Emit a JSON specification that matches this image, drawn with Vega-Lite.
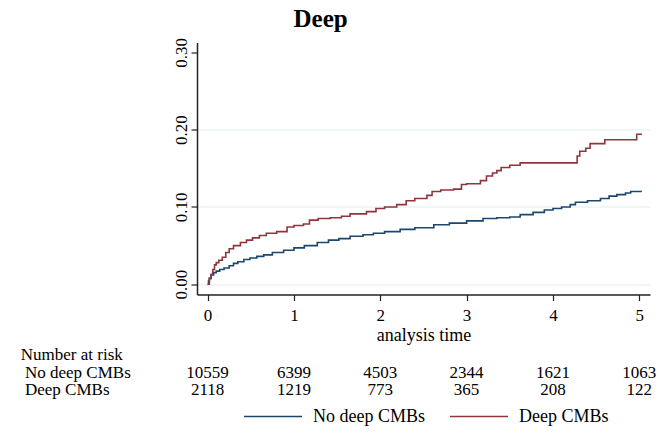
{
  "$schema": "https://vega.github.io/schema/vega-lite/v6.json",
  "background": "white",
  "padding": {"left": 20, "top": 6.5, "right": 5, "bottom": 5},
  "config": {
    "font": "Liberation Serif",
    "view": {"stroke": null},
    "concat": {"spacing": 1},
    "axis": {"domainColor": "#222222", "tickColor": "#222222", "domainWidth": 1.5, "tickWidth": 1.2, "labelColor": "#000000", "titleColor": "#000000", "labelFont": "Liberation Serif", "titleFont": "Liberation Serif"}
  },
  "datasets": {
    "curves": [
      {"group": "No deep CMBs", "t": 0, "v": 0},
      {"group": "No deep CMBs", "t": 0.01, "v": 0.004},
      {"group": "No deep CMBs", "t": 0.02, "v": 0.008},
      {"group": "No deep CMBs", "t": 0.04, "v": 0.012},
      {"group": "No deep CMBs", "t": 0.07, "v": 0.015},
      {"group": "No deep CMBs", "t": 0.10, "v": 0.017},
      {"group": "No deep CMBs", "t": 0.14, "v": 0.019},
      {"group": "No deep CMBs", "t": 0.19, "v": 0.021},
      {"group": "No deep CMBs", "t": 0.25, "v": 0.024},
      {"group": "No deep CMBs", "t": 0.30, "v": 0.027},
      {"group": "No deep CMBs", "t": 0.35, "v": 0.029},
      {"group": "No deep CMBs", "t": 0.42, "v": 0.032},
      {"group": "No deep CMBs", "t": 0.49, "v": 0.034},
      {"group": "No deep CMBs", "t": 0.57, "v": 0.036},
      {"group": "No deep CMBs", "t": 0.65, "v": 0.038},
      {"group": "No deep CMBs", "t": 0.75, "v": 0.041},
      {"group": "No deep CMBs", "t": 0.88, "v": 0.044},
      {"group": "No deep CMBs", "t": 1.00, "v": 0.047},
      {"group": "No deep CMBs", "t": 1.12, "v": 0.050},
      {"group": "No deep CMBs", "t": 1.27, "v": 0.054},
      {"group": "No deep CMBs", "t": 1.40, "v": 0.057},
      {"group": "No deep CMBs", "t": 1.52, "v": 0.059},
      {"group": "No deep CMBs", "t": 1.65, "v": 0.062},
      {"group": "No deep CMBs", "t": 1.80, "v": 0.064},
      {"group": "No deep CMBs", "t": 1.92, "v": 0.066},
      {"group": "No deep CMBs", "t": 2.05, "v": 0.068},
      {"group": "No deep CMBs", "t": 2.23, "v": 0.071},
      {"group": "No deep CMBs", "t": 2.40, "v": 0.073},
      {"group": "No deep CMBs", "t": 2.62, "v": 0.077},
      {"group": "No deep CMBs", "t": 2.80, "v": 0.079},
      {"group": "No deep CMBs", "t": 3.00, "v": 0.082},
      {"group": "No deep CMBs", "t": 3.19, "v": 0.085},
      {"group": "No deep CMBs", "t": 3.35, "v": 0.086},
      {"group": "No deep CMBs", "t": 3.50, "v": 0.087},
      {"group": "No deep CMBs", "t": 3.62, "v": 0.090},
      {"group": "No deep CMBs", "t": 3.77, "v": 0.093},
      {"group": "No deep CMBs", "t": 3.90, "v": 0.096},
      {"group": "No deep CMBs", "t": 4.00, "v": 0.098},
      {"group": "No deep CMBs", "t": 4.10, "v": 0.100},
      {"group": "No deep CMBs", "t": 4.20, "v": 0.103},
      {"group": "No deep CMBs", "t": 4.26, "v": 0.106},
      {"group": "No deep CMBs", "t": 4.40, "v": 0.108},
      {"group": "No deep CMBs", "t": 4.55, "v": 0.111},
      {"group": "No deep CMBs", "t": 4.65, "v": 0.114},
      {"group": "No deep CMBs", "t": 4.74, "v": 0.116},
      {"group": "No deep CMBs", "t": 4.84, "v": 0.118},
      {"group": "No deep CMBs", "t": 4.90, "v": 0.120},
      {"group": "No deep CMBs", "t": 5.03, "v": 0.120},
      {"group": "Deep CMBs", "t": 0, "v": 0},
      {"group": "Deep CMBs", "t": 0.02, "v": 0.007},
      {"group": "Deep CMBs", "t": 0.04, "v": 0.013},
      {"group": "Deep CMBs", "t": 0.06, "v": 0.019},
      {"group": "Deep CMBs", "t": 0.08, "v": 0.025},
      {"group": "Deep CMBs", "t": 0.10, "v": 0.028},
      {"group": "Deep CMBs", "t": 0.13, "v": 0.031},
      {"group": "Deep CMBs", "t": 0.17, "v": 0.035},
      {"group": "Deep CMBs", "t": 0.21, "v": 0.041},
      {"group": "Deep CMBs", "t": 0.25, "v": 0.046},
      {"group": "Deep CMBs", "t": 0.30, "v": 0.050},
      {"group": "Deep CMBs", "t": 0.38, "v": 0.054},
      {"group": "Deep CMBs", "t": 0.45, "v": 0.057},
      {"group": "Deep CMBs", "t": 0.52, "v": 0.060},
      {"group": "Deep CMBs", "t": 0.60, "v": 0.063},
      {"group": "Deep CMBs", "t": 0.68, "v": 0.066},
      {"group": "Deep CMBs", "t": 0.80, "v": 0.068},
      {"group": "Deep CMBs", "t": 0.92, "v": 0.074},
      {"group": "Deep CMBs", "t": 1.00, "v": 0.076},
      {"group": "Deep CMBs", "t": 1.11, "v": 0.078},
      {"group": "Deep CMBs", "t": 1.18, "v": 0.083},
      {"group": "Deep CMBs", "t": 1.28, "v": 0.085},
      {"group": "Deep CMBs", "t": 1.42, "v": 0.086},
      {"group": "Deep CMBs", "t": 1.55, "v": 0.088},
      {"group": "Deep CMBs", "t": 1.65, "v": 0.091},
      {"group": "Deep CMBs", "t": 1.84, "v": 0.094},
      {"group": "Deep CMBs", "t": 1.95, "v": 0.098},
      {"group": "Deep CMBs", "t": 2.05, "v": 0.100},
      {"group": "Deep CMBs", "t": 2.19, "v": 0.103},
      {"group": "Deep CMBs", "t": 2.30, "v": 0.108},
      {"group": "Deep CMBs", "t": 2.40, "v": 0.111},
      {"group": "Deep CMBs", "t": 2.54, "v": 0.115},
      {"group": "Deep CMBs", "t": 2.60, "v": 0.120},
      {"group": "Deep CMBs", "t": 2.70, "v": 0.122},
      {"group": "Deep CMBs", "t": 2.85, "v": 0.123},
      {"group": "Deep CMBs", "t": 2.94, "v": 0.129},
      {"group": "Deep CMBs", "t": 3.00, "v": 0.130},
      {"group": "Deep CMBs", "t": 3.16, "v": 0.134},
      {"group": "Deep CMBs", "t": 3.23, "v": 0.140},
      {"group": "Deep CMBs", "t": 3.30, "v": 0.144},
      {"group": "Deep CMBs", "t": 3.35, "v": 0.147},
      {"group": "Deep CMBs", "t": 3.40, "v": 0.151},
      {"group": "Deep CMBs", "t": 3.50, "v": 0.154},
      {"group": "Deep CMBs", "t": 3.62, "v": 0.157},
      {"group": "Deep CMBs", "t": 4.28, "v": 0.166},
      {"group": "Deep CMBs", "t": 4.31, "v": 0.172},
      {"group": "Deep CMBs", "t": 4.38, "v": 0.176},
      {"group": "Deep CMBs", "t": 4.43, "v": 0.182},
      {"group": "Deep CMBs", "t": 4.60, "v": 0.187},
      {"group": "Deep CMBs", "t": 4.97, "v": 0.194},
      {"group": "Deep CMBs", "t": 5.03, "v": 0.194}
    ],
    "risk": [
      {"group": "No deep CMBs", "t": 0, "n": 10559},
      {"group": "No deep CMBs", "t": 1, "n": 6399},
      {"group": "No deep CMBs", "t": 2, "n": 4503},
      {"group": "No deep CMBs", "t": 3, "n": 2344},
      {"group": "No deep CMBs", "t": 4, "n": 1621},
      {"group": "No deep CMBs", "t": 5, "n": 1063},
      {"group": "Deep CMBs", "t": 0, "n": 2118},
      {"group": "Deep CMBs", "t": 1, "n": 1219},
      {"group": "Deep CMBs", "t": 2, "n": 773},
      {"group": "Deep CMBs", "t": 3, "n": 365},
      {"group": "Deep CMBs", "t": 4, "n": 208},
      {"group": "Deep CMBs", "t": 5, "n": 122}
    ]
  },
  "vconcat": [
    {
      "width": 453,
      "height": 252,
      "title": {"text": "Deep", "font": "Liberation Serif", "fontSize": 25, "fontWeight": "bold", "color": "#000000", "anchor": "start", "dx": 121, "offset": 5.5},
      "data": {"name": "curves"},
      "mark": {"type": "line", "interpolate": "step-after", "strokeWidth": 1.6},
      "encoding": {
        "x": {"field": "t", "type": "quantitative", "scale": {"domain": [-0.123, 5.124], "nice": false, "zero": false},
              "axis": {"values": [0, 1, 2, 3, 4, 5], "format": "d", "grid": false, "tickSize": 6, "labelFontSize": 17, "labelPadding": 7, "labelFlush": false, "title": "analysis time", "titleFontSize": 18, "titleFontWeight": "normal", "titlePadding": 3}},
        "y": {"field": "v", "type": "quantitative", "scale": {"domain": [-0.0133, 0.3128], "nice": false, "zero": false},
              "axis": {"values": [0, 0.1, 0.2, 0.3], "format": ".2f", "title": null, "tickSize": 6, "labelFontSize": 17, "labelAngle": 270, "labelAlign": "center", "labelBaseline": "alphabetic", "labelPadding": 4.5, "labelFlush": false,
                       "grid": true, "gridColor": "#e1ebec", "gridWidth": 1.2, "gridOpacity": {"condition": {"test": "datum.value > 0.25", "value": 0}, "value": 1}}},
        "color": {"field": "group", "type": "nominal", "scale": {"domain": ["No deep CMBs", "Deep CMBs"], "range": ["#1a476f", "#90353b"]},
                  "legend": {"orient": "none", "legendX": 46, "legendY": 344, "direction": "horizontal", "title": null, "symbolType": "stroke", "symbolSize": 3364, "symbolStrokeWidth": 1.5, "labelFontSize": 18, "labelFont": "Liberation Serif", "labelColor": "#000000", "labelOffset": 10, "columnPadding": 22}}
      }
    },
    {
      "width": 453,
      "height": 52.5,
      "data": {"name": "risk"},
      "mark": {"type": "text", "fontSize": 17, "font": "Liberation Serif", "color": "#000000", "baseline": "middle"},
      "encoding": {
        "x": {"field": "t", "type": "quantitative", "scale": {"domain": [-0.123, 5.124], "nice": false, "zero": false}, "axis": null},
        "y": {"field": "group", "type": "nominal", "scale": {"type": "band", "domain": ["Number at risk", "No deep CMBs", "Deep CMBs"], "paddingInner": 0, "paddingOuter": 0},
              "axis": {"title": null, "domain": false, "ticks": false, "labelAlign": "left", "labelBaseline": "middle", "labelPadding": {"condition": {"test": "datum.value === 'Number at risk'", "value": 176.7}, "value": 172.5}, "labelFontSize": 17, "labelFont": "Liberation Serif", "labelColor": "#000000", "labelLimit": 300}},
        "text": {"field": "n", "type": "quantitative", "format": "d"}
      }
    }
  ]
}
